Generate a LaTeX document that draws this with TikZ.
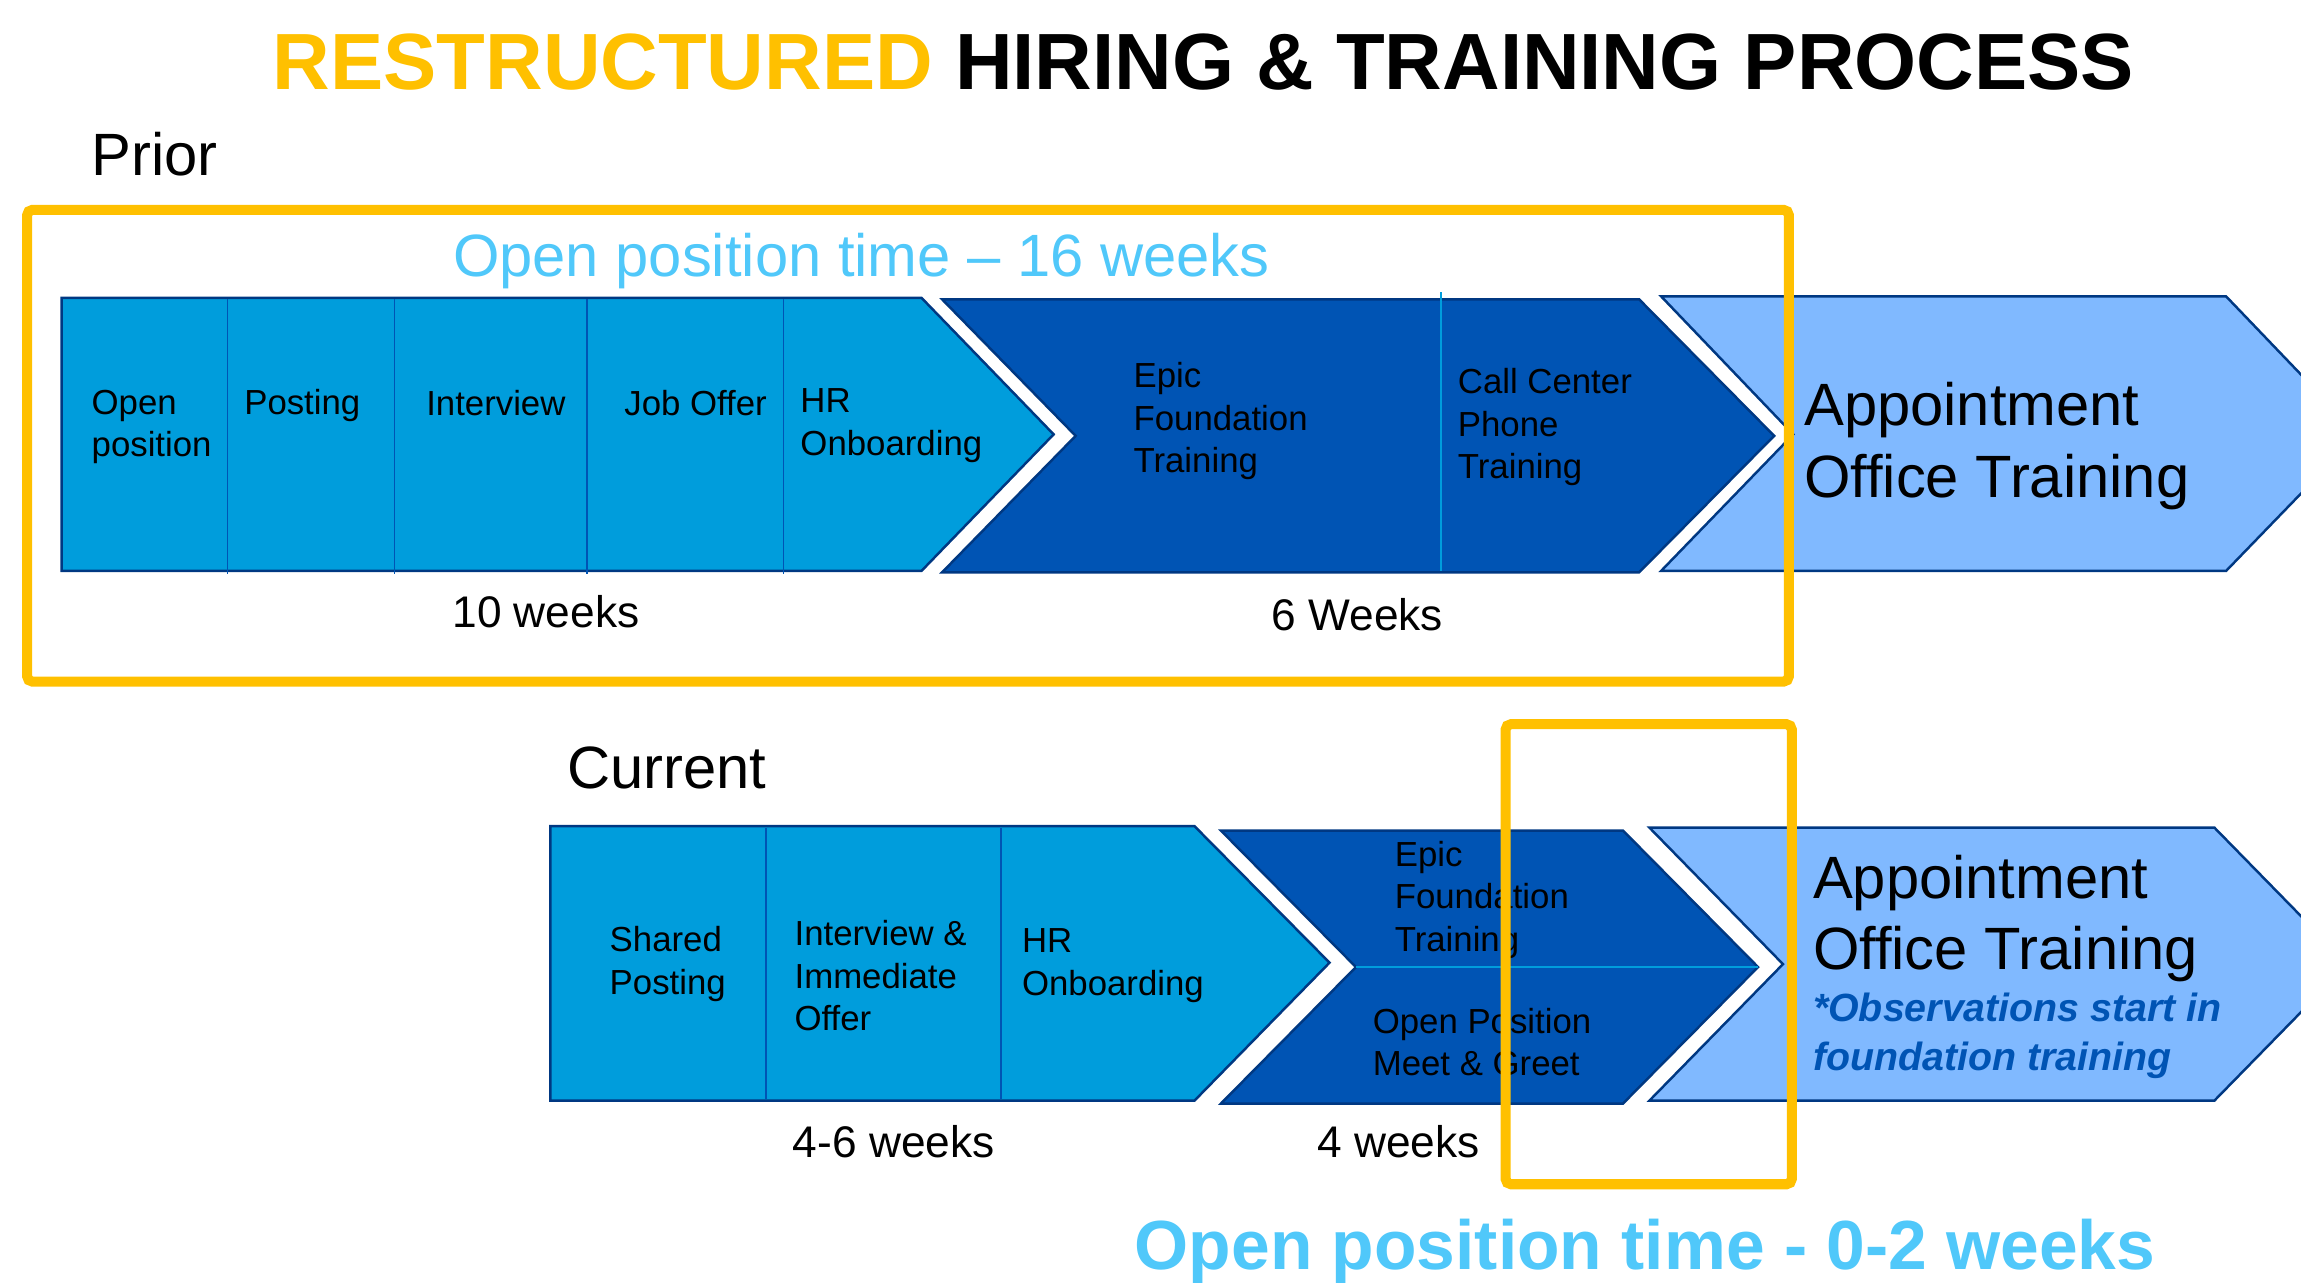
\documentclass[tikz,border=0pt]{standalone}
\usepackage{fontspec}
\setmainfont{Liberation Sans}
\usetikzlibrary{positioning}
\definecolor{hireblue}{RGB}{0,157,220}
\definecolor{trainblue}{RGB}{0,84,180}
\definecolor{officeblue}{RGB}{128,185,255}
\definecolor{edgeblue}{RGB}{0,56,130}
\definecolor{highlight}{RGB}{255,192,0}
\definecolor{timecyan}{RGB}{80,200,250}

\begin{document}
\begin{tikzpicture}[x=0.014675cm, y=-0.014675cm,
    steptext/.style={anchor=west, inner sep=0pt, align=left, font=\fontsize{9.9}{12.1}\selectfont},
    bigtext/.style={anchor=west, inner sep=0pt, align=left, font=\fontsize{17}{20.4}\selectfont},
    weektext/.style={inner sep=0pt, font=\fontsize{12.6}{15}\selectfont},
    chevron/.style={draw=edgeblue, line width=0.7pt, line join=miter},
    frame/.style={draw=highlight, line width=2.85pt, rounded corners=1.5pt}]
    \useasboundingbox (0,0) rectangle (1568,874);
    \clip (0,0) rectangle (1568,874);

    % Title
    \node[inner sep=0pt, font=\fontsize{22.7}{27}\selectfont\bfseries] (title) at (820,42)
        {\textcolor{highlight}{RESTRUCTURED} HIRING \& TRAINING PROCESS};
    \node[bigtext] (prior) at (62,105) {Prior};

    % Prior process
    \draw[chevron, fill=hireblue] (42,203) -- (628,203) -- (718,296) -- (628,389) -- (42,389) -- cycle;
    \foreach \x in {155,269,400,534}
        \draw[trainblue, line width=0.4pt] (\x,204) -- (\x,391);
    \draw[chevron, fill=trainblue] (642,204) -- (1117,204) -- (1209,297) -- (1117,390) -- (642,390) -- (733,297) -- cycle;
    \draw[hireblue, line width=0.5pt] (982,199) -- (982,389);
    \draw[chevron, fill=officeblue] (1132,202) -- (1517,202) -- (1607,296) -- (1517,389) -- (1132,389) -- (1222,296) -- cycle;

    \node[steptext] (openpos) at (62,291) {Open\\position};
    \node[steptext] (posting) at (166,276) {Posting};
    \node[steptext] (interview) at (290,275) {Interview};
    \node[steptext] (joboffer) at (425,275) {Job Offer};
    \node[steptext] (onboard) at (545,290) {HR\\Onboarding};
    \node[steptext] (epic) at (772,287) {Epic\\Foundation\\Training};
    \node[steptext] (callcenter) at (993,291) {Call Center\\Phone\\Training};
    \node[bigtext] (office) at (1229,304) {Appointment\\Office Training};

    \node[weektext] (tenweeks) at (372,417) {10 weeks};
    \node[weektext] (sixweeks) at (925,419) {6 Weeks};
    \node[inner sep=0pt, text=timecyan, font=\fontsize{17}{20}\selectfont] (oldtime) at (587,178)
        {Open position time -- 16 weeks};

    \draw[frame] (18.5,143) rectangle (1219,464.5);

    % Current process
    \node[bigtext] (current) at (386,523) {Current};
    \draw[chevron, fill=hireblue] (375,563) -- (814,563) -- (906,656) -- (814,750) -- (375,750) -- cycle;
    \foreach \x in {522,682}
        \draw[trainblue, line width=0.4pt] (\x,564) -- (\x,749);
    \draw[chevron, fill=trainblue] (832,566) -- (1106,566) -- (1198,659) -- (1106,752) -- (832,752) -- (924,659) -- cycle;
    \draw[hireblue, line width=0.5pt] (924,659) -- (1198,659);
    \draw[chevron, fill=officeblue] (1124,564) -- (1509,564) -- (1600,657) -- (1509,750) -- (1124,750) -- (1215,657) -- cycle;

    \node[steptext] (shared) at (415,657) {Shared\\Posting};
    \node[steptext] (offer) at (541,665) {Interview \&\\Immediate\\Offer};
    \node[steptext] (onboardnew) at (696,658) {HR\\Onboarding};
    \node[steptext] (epicnew) at (950,613) {Epic\\Foundation\\Training};
    \node[steptext] (meet) at (935,710) {Open Position\\Meet \& Greet};
    \node[bigtext] (officenew) at (1235,626) {Appointment\\Office Training};
    \node[anchor=west, inner sep=0pt, align=left, text=trainblue, font=\fontsize{11.2}{13.8}\selectfont\bfseries\itshape] (observe) at (1235,706)
        {*Observations start in\\foundation training};

    \node[weektext] (fourweeks) at (609,778) {4-6 weeks};
    \node[weektext] (four) at (953,778) {4 weeks};

    \draw[frame] (1026,493.5) rectangle (1221,807);
    \node[inner sep=0pt, text=timecyan, font=\fontsize{19.8}{24}\selectfont\bfseries] (newtime) at (1121,853)
        {Open position time - 0-2 weeks};
\end{tikzpicture}
\end{document}
